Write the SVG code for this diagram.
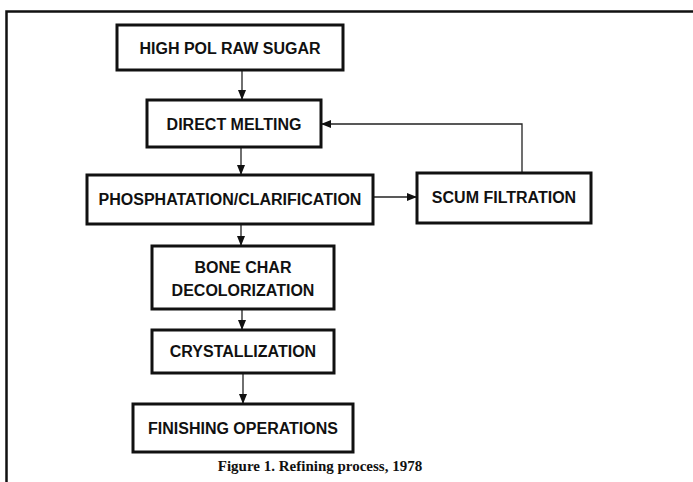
<svg xmlns="http://www.w3.org/2000/svg" width="693" height="482" viewBox="0 0 693 482">
<style>
.box{fill:#fff;stroke:#111;stroke-width:3}
.lbl{font-family:"Liberation Sans",Arial,sans-serif;font-weight:bold;font-size:16px;fill:#111;text-anchor:middle}
.con{fill:none;stroke:#222;stroke-width:1.3}
.cap{font-family:"Liberation Serif","Times New Roman",serif;font-weight:bold;font-size:15px;fill:#111;text-anchor:middle}
</style>
<defs>
<marker id="ah" markerWidth="10" markerHeight="8" refX="9" refY="4" orient="auto" markerUnits="userSpaceOnUse">
<path d="M0,0 L10,4 L0,8 Z" fill="#111"/>
</marker>
</defs>
<rect width="693" height="482" fill="#fff"/>
<g id="frame">
<path d="M6.5,482 V11.5 H693" fill="none" stroke="#111" stroke-width="2.5"/>
</g>
<g id="connectors">
<line class="con" x1="242" y1="71" x2="242" y2="99" marker-end="url(#ah)"/>
<line class="con" x1="241" y1="148" x2="241" y2="174" marker-end="url(#ah)"/>
<line class="con" x1="241" y1="225" x2="241" y2="245" marker-end="url(#ah)"/>
<line class="con" x1="242" y1="310" x2="242" y2="329" marker-end="url(#ah)"/>
<line class="con" x1="243" y1="374" x2="243" y2="403" marker-end="url(#ah)"/>
<line class="con" x1="374" y1="197" x2="416" y2="197" marker-end="url(#ah)"/>
<path class="con" d="M522,172 V124 H322" marker-end="url(#ah)"/>
</g>
<g id="n1"><rect class="box" x="117" y="25" width="226" height="45"/><text class="lbl" x="230" y="54">HIGH POL RAW SUGAR</text></g>
<g id="n2"><rect class="box" x="147" y="100" width="174" height="47"/><text class="lbl" x="234" y="130">DIRECT MELTING</text></g>
<g id="n3"><rect class="box" x="87" y="175" width="286" height="49"/><text class="lbl" x="230" y="205">PHOSPHATATION/CLARIFICATION</text></g>
<g id="n4"><rect class="box" x="417" y="173" width="174" height="50"/><text class="lbl" x="504" y="203">SCUM FILTRATION</text></g>
<g id="n5"><rect class="box" x="152" y="246" width="182" height="63"/><text class="lbl" x="243" y="273">BONE CHAR</text><text class="lbl" x="243" y="296">DECOLORIZATION</text></g>
<g id="n6"><rect class="box" x="152" y="330" width="182" height="43"/><text class="lbl" x="243" y="357">CRYSTALLIZATION</text></g>
<g id="n7"><rect class="box" x="133" y="404" width="220" height="48"/><text class="lbl" x="243" y="434">FINISHING OPERATIONS</text></g>
<text class="cap" x="320" y="471">Figure 1. Refining process, 1978</text>
</svg>
